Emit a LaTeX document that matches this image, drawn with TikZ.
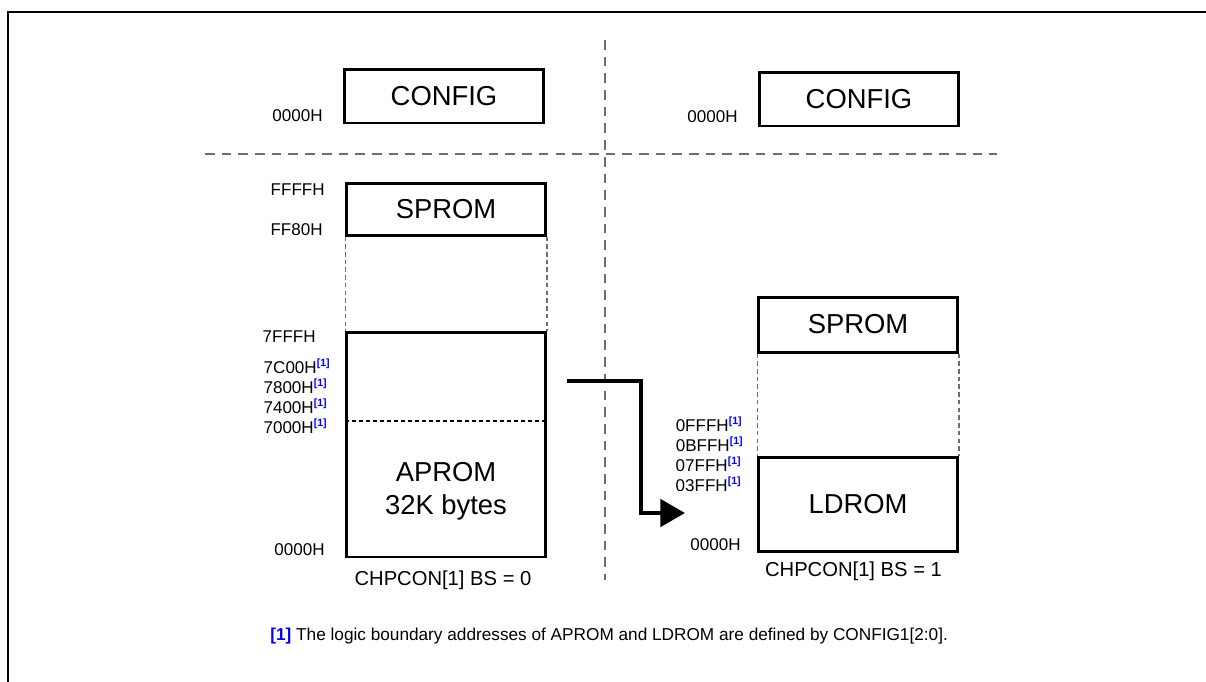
\documentclass[tikz,border=0pt]{standalone}
\usepackage{fontspec}
\setmainfont{Liberation Sans}
\usetikzlibrary{positioning}
\usetikzlibrary{arrows.meta}

\definecolor{divgray}{RGB}{110,110,110}
\newcommand{\bnd}{\raisebox{3.5pt}{\fontsize{6}{6}\selectfont\bfseries\color{blue}[1]}}

\begin{document}
\begin{tikzpicture}[
    x = 0.02cm,
    y = -0.02cm,
    ]

    \tikzstyle{mem}=[
    draw = black,
    line width = 1.7pt,
    inner sep = 0pt,
    minimum width = 3.98cm,
    font = \fontsize{15.6}{18.7}\selectfont,
    ]
    \tikzstyle{addr}=[
    anchor = base east,
    inner sep = 0pt,
    font = \fontsize{9.7}{11}\selectfont,
    ]
    \tikzstyle{mode}=[
    anchor = base,
    inner sep = 0pt,
    font = \fontsize{11.5}{13}\selectfont,
    ]
    \tikzstyle{guide}=[
    draw = divgray,
    line width = 0.6pt,
    dash pattern = on 2.6pt off 1.8pt,
    ]
    \tikzstyle{divide}=[
    draw = divgray,
    line width = 0.7pt,
    dash pattern = on 5.5pt off 4pt,
    ]

    \useasboundingbox (0,0) rectangle (1206,681);

    % frame
    \draw[line width=1.2pt] (8,700) -- (8,12) -- (1230,12);

    % split of the two settings
    \coordinate (vtop) at (605,40);
    \coordinate (vbot) at (605,580);
    \coordinate (hleft) at (205,154);
    \coordinate (hright) at (997,154);
    \draw[divide] (vtop) -- (vbot);
    \draw[divide] (hleft) -- (hright);

    % BS = 0
    \node[mem, minimum height=1.08cm] (cfgA) at (444,96) {CONFIG};
    \node[mem, minimum height=1.04cm] (spromA) at (446,209) {SPROM};
    \node[mem, minimum height=4.5cm] (aprom) at (446,444.5) {};
    \node[mem, draw=none, align=center] (apromtxt) at (446,491) {APROM\\32K bytes};
    \draw[black, line width=0.6pt, dash pattern=on 2.3pt off 1.7pt]
        (aprom.west |- 0,421) -- (aprom.east |- 0,421);
    \draw[guide] (spromA.south west) -- (aprom.north west);
    \draw[guide] (spromA.south east) -- (aprom.north east);

    \node[addr] (a0) at (323,121) {0000H};
    \node[addr] (a1) at (325,195) {FFFFH};
    \node[addr] (a2) at (323,235) {FF80H};
    \node[addr] (a3) at (316,342) {7FFFH};
    \node[addr] (a4) at (330,373) {7C00H\bnd};
    \node[addr] (a5) at (327,393) {7800H\bnd};
    \node[addr] (a6) at (327,413) {7400H\bnd};
    \node[addr] (a7) at (327,433) {7000H\bnd};
    \node[addr] (a8) at (325,555) {0000H};
    \node[mode] (bs0) at (443,585) {CHPCON[1] BS = 0};

    % BS = 1
    \node[mem, minimum height=1.08cm] (cfgB) at (859,99) {CONFIG};
    \node[mem, minimum height=1.1cm] (spromB) at (858,324.5) {SPROM};
    \node[mem, minimum height=1.88cm] (ldrom) at (858,504) {LDROM};
    \draw[guide] (spromB.south west) -- (ldrom.north west);
    \draw[guide] (spromB.south east) -- (ldrom.north east);

    \node[addr] (b0) at (738,122) {0000H};
    \node[addr] (b1) at (742,431) {0FFFH\bnd};
    \node[addr] (b2) at (743,451) {0BFFH\bnd};
    \node[addr] (b3) at (741,471) {07FFH\bnd};
    \node[addr] (b4) at (741,491) {03FFH\bnd};
    \node[addr] (b5) at (741,550) {0000H};
    \node[mode] (bs1) at (853.5,576) {CHPCON[1] BS = 1};

    % boot switch
    \coordinate (mvA) at (567,381);
    \coordinate (mvB) at (685,513);
    \draw[line width=2.3pt, -{Triangle[length=14pt, width=15.5pt]}]
        (mvA) -| (641,513) -- (mvB);

    % note
    \node[anchor=base west, inner sep=0pt, font=\fontsize{9.8}{11}\selectfont] (note) at (270,640)
        {{\color{blue}\bfseries[1]} The logic boundary addresses of APROM and LDROM are defined by CONFIG1[2:0].};
\end{tikzpicture}
\end{document}
